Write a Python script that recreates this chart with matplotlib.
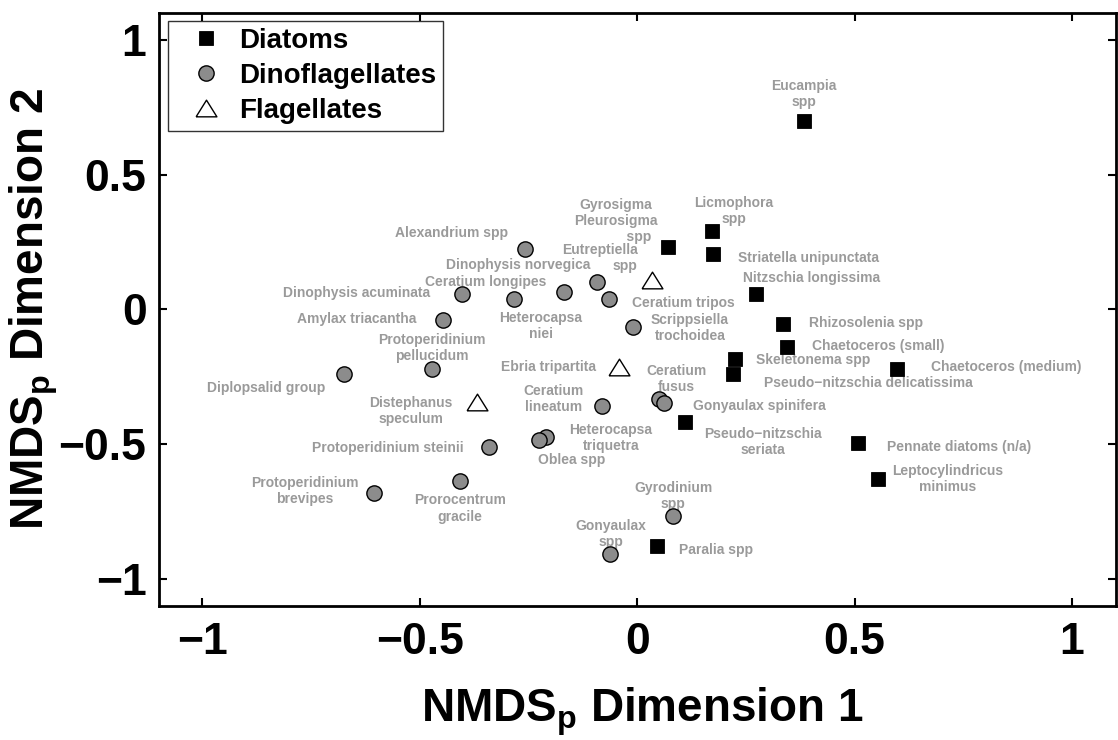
import matplotlib
matplotlib.use("Agg")
import matplotlib.pyplot as plt
from matplotlib import font_manager as fm
from matplotlib.lines import Line2D

# ---------------- data: NMDS coordinates of each taxon ----------------
diatom_names = [
    "Eucampia\nspp", "Licmophora\nspp", "Gyrosigma\nPleurosigma\n            spp",
    "Striatella unipunctata", "Nitzschia longissima", "Rhizosolenia spp",
    "Chaetoceros (small)", "Skeletonema spp", "Pseudo\u2212nitzschia delicatissima",
    "Chaetoceros (medium)", "Pseudo\u2212nitzschia\nseriata", "Pennate diatoms (n/a)",
    "Leptocylindricus\nminimus", "Paralia spp",
]
diatom_x = [0.383, 0.172, 0.071, 0.175, 0.273, 0.335, 0.345, 0.224, 0.221, 0.598,
            0.110, 0.507, 0.553, 0.045]
diatom_y = [0.700, 0.292, 0.232, 0.206, 0.056, -0.055, -0.139, -0.186, -0.241, -0.223,
            -0.418, -0.498, -0.629, -0.878]

dino_names = [
    "Alexandrium spp", "Dinophysis acuminata", "Ceratium longipes", "Dinophysis norvegica",
    "Heterocapsa\nniei", "Ceratium tripos", "Scrippsiella\ntrochoidea", "Amylax triacantha",
    "Protoperidinium\npellucidum", "Diplopsalid group", "Ceratium\nlineatum",
    "Heterocapsa\ntriquetra", "Oblea spp", "Protoperidinium steinii", "Prorocentrum\ngracile",
    "Protoperidinium\nbrevipes", "Ceratium\nfusus", "Gonyaulax spinifera", "Gyrodinium\nspp",
    "Gonyaulax\nspp",
]
dino_x = [-0.258, -0.404, -0.284, -0.168, -0.093, -0.064, -0.010, -0.446, -0.473, -0.675,
          -0.082, -0.210, -0.226, -0.340, -0.408, -0.605, 0.051, 0.061, 0.083, -0.062]
dino_y = [0.224, 0.057, 0.038, 0.064, 0.100, 0.037, -0.066, -0.039, -0.223, -0.240,
          -0.359, -0.473, -0.485, -0.510, -0.636, -0.681, -0.334, -0.349, -0.768, -0.910]

flag_names = ["Eutreptiella\nspp", "Ebria tripartita", "Distephanus\nspeculum"]
flag_x = [0.035, -0.043, -0.369]
flag_y = [0.109, -0.216, -0.345]

group_names = ["Diatoms", "Dinoflagellates", "Flagellates"]

tick_values = [-1, -0.5, 0, 0.5, 1]
tick_labels = ["\u22121", "\u22120.5", "0", "0.5", "1"]

# ---------------- label placement (pixel offsets from the marker) ----------------
diatom_offsets = [(0, 27), (22, 20), (-52, 26), (95, -4), (56, 16), (83, 1), (91, 1),
                  (78, -1), (135, -9), (109, 2), (78, -20), (101, -4), (70, 0), (59, -4)]
dino_offsets = [(-74, 16), (-105, 1), (-28, 17), (-46, 27), (-56, -44), (74, -4), (57, -1),
                (-87, 1), (0, 21), (-78, -14), (-48, 7), (65, -1), (33, -20), (-102, -1),
                (0, -28), (-69, 2), (17, 20), (96, -3), (0, 20), (1, 20)]
flag_offsets = [(-15, 22), (-70, 0), (-66, -9)]
flag_align = ["right", "center", "center"]

# ---------------- fonts ----------------
available = {f.name for f in fm.fontManager.ttflist}
TEXT_FONT = "Liberation Sans"
AXIS_FONT, TICK_SIZE, AXLABEL_SIZE = TEXT_FONT, 32, 33
for cand in ["Liberation Sans Narrow", "Arial Narrow", "Nimbus Sans Narrow"]:
    if cand in available:
        AXIS_FONT, TICK_SIZE, AXLABEL_SIZE = cand, 35, 38
        break

plt.rcParams["font.family"] = [TEXT_FONT, "DejaVu Sans"]
plt.rcParams["mathtext.default"] = "regular"

LABEL_GRAY = "#9a9a9a"
CIRCLE_GRAY = "#8c8c8c"

fig = plt.figure(figsize=(11.18, 7.4), dpi=100)
fig.patch.set_facecolor("white")
ax = fig.add_axes([159 / 1118, 1 - 605.5 / 740, (1115.5 - 159) / 1118, (605.5 - 13.1) / 740])

# triangle slightly wider than tall
tri = [(-1.0, -0.8), (1.0, -0.8), (0.0, 0.8), (-1.0, -0.8)]

sq_kw = dict(marker="s", markersize=10, markerfacecolor="black", markeredgecolor="black",
             markeredgewidth=0.6, linestyle="none")
ci_kw = dict(marker="o", markersize=11, markerfacecolor=CIRCLE_GRAY, markeredgecolor="black",
             markeredgewidth=1.0, linestyle="none")
tr_kw = dict(marker=tri, markersize=15, markerfacecolor="white", markeredgecolor="black",
             markeredgewidth=1.0, linestyle="none")

ax.plot(diatom_x, diatom_y, zorder=3, **sq_kw)
ax.plot(dino_x, dino_y, zorder=3, **ci_kw)
ax.plot(flag_x, flag_y, zorder=3, **tr_kw)

label_kw = dict(textcoords="offset pixels", va="center", fontsize=10, fontweight="bold",
                color=LABEL_GRAY, family=[TEXT_FONT, "DejaVu Sans"], zorder=2)

for name, x, y, (dx, dy) in zip(diatom_names, diatom_x, diatom_y, diatom_offsets):
    ax.annotate(name, (x, y), xytext=(dx, dy), ha="center", **label_kw)
for name, x, y, (dx, dy) in zip(dino_names, dino_x, dino_y, dino_offsets):
    ax.annotate(name, (x, y), xytext=(dx, dy), ha="center", **label_kw)
for name, x, y, (dx, dy), ha in zip(flag_names, flag_x, flag_y, flag_offsets, flag_align):
    ax.annotate(name, (x, y), xytext=(dx, dy), ha=ha, **label_kw)

ax.set_xlim(-1.1, 1.1)
ax.set_ylim(-1.1, 1.1)
ax.set_xticks(tick_values)
ax.set_xticklabels(tick_labels)
ax.set_yticks(tick_values)
ax.set_yticklabels(tick_labels)

for lab in ax.get_xticklabels() + ax.get_yticklabels():
    lab.set_fontfamily([AXIS_FONT, "DejaVu Sans"])
    lab.set_fontweight("bold")
    lab.set_fontsize(TICK_SIZE)

ax.tick_params(axis="both", which="both", direction="in", length=6, width=1.5,
               top=True, right=True, color="black")
ax.tick_params(axis="x", pad=12)
ax.tick_params(axis="y", pad=9)
for sp in ax.spines.values():
    sp.set_linewidth(2.0)
    sp.set_color("black")

ax.set_xlabel("NMDS$_p$ Dimension 1", fontsize=AXLABEL_SIZE, fontweight="bold",
              family=[AXIS_FONT, "DejaVu Sans"])
ax.set_ylabel("NMDS$_p$ Dimension 2", fontsize=AXLABEL_SIZE, fontweight="bold",
              family=[AXIS_FONT, "DejaVu Sans"])
ax.xaxis.set_label_coords(0.505, -0.135)
ax.yaxis.set_label_coords(-0.103, 0.5)

handles = [
    Line2D([], [], **sq_kw),
    Line2D([], [], **ci_kw),
    Line2D([], [], **tr_kw),
]
leg = ax.legend(handles, group_names, loc="upper left", bbox_to_anchor=(0.0094, 0.9875),
                borderaxespad=0, borderpad=0.26, handlelength=2.2, handletextpad=0.1,
                labelspacing=0.32, frameon=True, fancybox=False,
                prop=dict(family=[TEXT_FONT, "DejaVu Sans"], weight="bold", size=20))
leg.get_frame().set_edgecolor("black")
leg.get_frame().set_linewidth(1.0)
leg.set_zorder(5)

fig.savefig("out.png", dpi=100, facecolor="white")
